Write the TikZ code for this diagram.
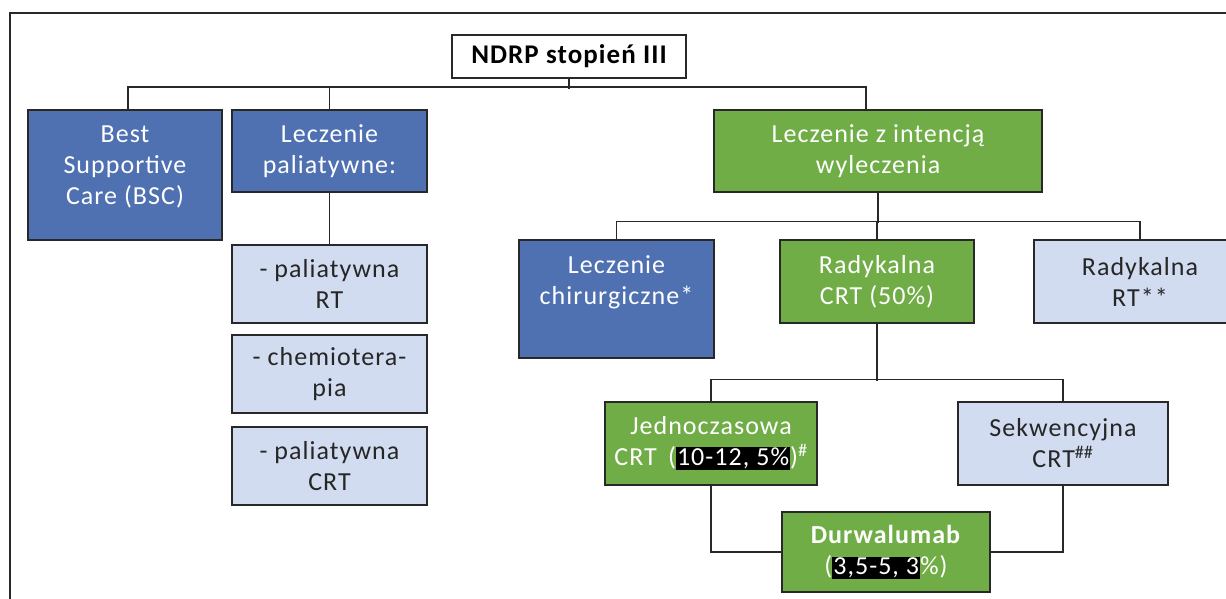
\documentclass[tikz,border=0pt]{standalone}
\usepackage{fontspec}
\setmainfont{Carlito}[LetterSpace=4]
\usetikzlibrary{calc}
\definecolor{ndblue}{RGB}{79,113,177}
\definecolor{ndgreen}{RGB}{112,173,71}
\definecolor{ndlight}{RGB}{209,220,240}
\definecolor{ndline}{RGB}{40,40,40}
\newcommand{\blackhl}[1]{{\setlength{\fboxsep}{1pt}\colorbox{black}{#1}}}
\tikzset{
  box/.style={draw=ndline, line width=1.5pt, inner sep=2pt, align=center, font=\fontsize{26}{31}\selectfont},
  bluebox/.style={box, fill=ndblue, text=white},
  greenbox/.style={box, fill=ndgreen, text=white},
  lightbox/.style={box, fill=ndlight, text=black!85},
  link/.style={draw=ndline, line width=1.5pt}
}

\begin{document}
\begin{tikzpicture}[x=1pt, y=-1pt]
\useasboundingbox (0,0) rectangle (1226,599);
\clip (0,0) rectangle (1226,599);
\draw[link] (10,13) rectangle (1260,640); %%Frame

\node[box, fill=white, minimum width=234, minimum height=43, font=\bfseries\fontsize{27}{30}\selectfont] (ndrp) at (569,56.5) {NDRP stopień III};

%%Left
\node[bluebox, minimum width=194, minimum height=130, text depth=19] (bsc) at (125,175) {Best\\Supportive\\Care (BSC)};
\node[bluebox, minimum width=195, minimum height=82] (pal) at (329.5,151) {Leczenie\\paliatywne:};
\node[lightbox, minimum width=195, minimum height=78] (palrt) at (329.5,284) {- paliatywna\\RT};
\node[lightbox, minimum width=195, minimum height=78] (chemo) at (329.5,374) {- chemiotera-\\pia};
\node[lightbox, minimum width=195, minimum height=78] (palcrt) at (329.5,466) {- paliatywna\\CRT};

%%Right
\node[greenbox, minimum width=328, minimum height=82] (intent) at (878,151) {Leczenie z intencją\\wyleczenia};
\node[bluebox, minimum width=195, minimum height=118, text depth=37] (chir) at (616.5,299) {Leczenie\\chirurgiczne*};
\node[greenbox, minimum width=194, minimum height=83] (rcrt) at (877,281.5) {Radykalna\\CRT (50\%)};
\node[lightbox, minimum width=212, minimum height=83] (rrt) at (1140,281.5) {Radykalna\\RT**};
\node[greenbox, minimum width=212, minimum height=83] (jedn) at (711,443.5) {Jednoczasowa\\CRT \,(\blackhl{10-12, 5\%})$^{\#}$};
\node[lightbox, minimum width=210, minimum height=83] (sekw) at (1063,443.5) {Sekwencyjna\\CRT$^{\#\#}$};
\node[greenbox, minimum width=208, minimum height=80] (durw) at (886,552) {\textbf{Durwalumab}\\(\blackhl{3,5-5, 3}\%)};

%%Top level
\draw[link] (ndrp.south) -- ++(0,10);
\draw[link] ([xshift=3pt]bsc.north) -- ++(0,-22) -| ([xshift=-12pt]intent.north);
\draw[link] (pal.north) -- ++(0,-22);
\draw[link] (pal.south) -- (palrt.north);

%%Curative
\draw[link] (intent.south) -- ++(0,30);
\draw[link] (chir.north) -- ++(0,-18) -| (rrt.north);
\draw[link] (rcrt.north) -- ++(0,-18);

%%CRT
\draw[link] (rcrt.south) -- ++(0,57);
\draw[link] (jedn.north) -- ++(0,-22) -| (sekw.north);
\draw[link] (jedn.south) |- (durw.west);
\draw[link] (sekw.south) |- (durw.east);
\end{tikzpicture}
\end{document}
